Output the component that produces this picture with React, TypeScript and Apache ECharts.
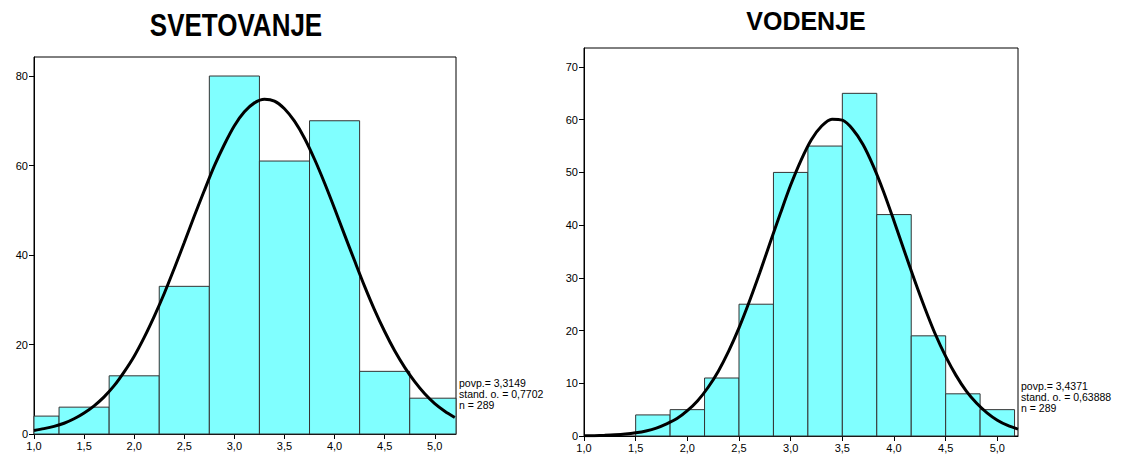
import React, { useEffect, useRef } from "react";
import * as echarts from "echarts";

// ---- Data: SVETOVANJE (left) ----
const leftBinEdges = [0.75, 1.25, 1.75, 2.25, 2.75, 3.25, 3.75, 4.25, 4.75, 5.25];
const leftCounts = [4, 6, 13, 33, 80, 61, 70, 14, 8];
const leftCurveX = [1.0, 1.1, 1.2, 1.3, 1.4, 1.5, 1.6, 1.7, 1.8, 1.9, 2.0, 2.1, 2.2, 2.3, 2.4, 2.5, 2.6, 2.7, 2.8, 2.9, 3.0, 3.1, 3.2, 3.3, 3.4, 3.5, 3.6, 3.7, 3.8, 3.9, 4.0, 4.1, 4.2, 4.3, 4.4, 4.5, 4.6, 4.7, 4.8, 4.9, 5.0, 5.1, 5.2];
const leftCurveY = [0.8, 1.2, 1.7, 2.4, 3.4, 4.7, 6.3, 8.3, 10.8, 13.9, 17.4, 21.6, 26.3, 31.4, 37.0, 42.8, 48.7, 54.4, 59.9, 64.7, 68.9, 72.0, 74.0, 74.8, 74.4, 72.7, 69.9, 66.1, 61.4, 56.1, 50.4, 44.5, 38.7, 33.0, 27.7, 22.9, 18.6, 14.9, 11.7, 9.0, 6.8, 5.1, 3.7];
const leftYTicks = [0, 20, 40, 60, 80];
const leftStats = ["povp.= 3,3149", "stand. o. = 0,7702", "n = 289"];

// ---- Data: VODENJE (right) ----
const rightBinEdges = [1.5, 1.8333, 2.1667, 2.5, 2.8333, 3.1667, 3.5, 3.8333, 4.1667, 4.5, 4.8333, 5.1667];
const rightCounts = [4, 5, 11, 25, 50, 55, 65, 42, 19, 8, 5];
const rightCurveX = [1.0, 1.1, 1.2, 1.3, 1.4, 1.5, 1.6, 1.7, 1.8, 1.9, 2.0, 2.1, 2.2, 2.3, 2.4, 2.5, 2.6, 2.7, 2.8, 2.9, 3.0, 3.1, 3.2, 3.3, 3.4, 3.5, 3.6, 3.7, 3.8, 3.9, 4.0, 4.1, 4.2, 4.3, 4.4, 4.5, 4.6, 4.7, 4.8, 4.9, 5.0, 5.1, 5.2];
const rightCurveY = [0.04, 0.07, 0.13, 0.22, 0.37, 0.61, 0.96, 1.5, 2.3, 3.3, 4.8, 6.7, 9.2, 12.3, 16.1, 20.5, 25.5, 30.9, 36.6, 42.2, 47.6, 52.3, 56.2, 58.8, 60.1, 59.9, 58.2, 55.3, 51.2, 46.3, 40.8, 35.1, 29.5, 24.2, 19.3, 15.1, 11.5, 8.5, 6.2, 4.4, 3.0, 2.0, 1.3];
const rightYTicks = [0, 10, 20, 30, 40, 50, 60, 70];
const rightStats = ["povp.= 3,4371", "stand. o. = 0,63888", "n = 289"];

const xTicks = [1.0, 1.5, 2.0, 2.5, 3.0, 3.5, 4.0, 4.5, 5.0];

const FONT = "'Liberation Sans', Arial, sans-serif";

function binData(edges: number[], counts: number[]) {
  return counts.map((c, i) => [edges[i], edges[i + 1], c]);
}

function renderBin(params: any, api: any) {
  const x0 = api.value(0);
  const x1 = api.value(1);
  const c = api.value(2);
  const p0 = api.coord([x0, c]);
  const p1 = api.coord([x1, 0]);
  const cs = params.coordSys;
  const rect = echarts.graphic.clipRectByRect(
    { x: p0[0], y: p0[1], width: p1[0] - p0[0], height: p1[1] - p0[1] },
    { x: cs.x, y: cs.y, width: cs.width, height: cs.height }
  );
  if (!rect) return null;
  return {
    type: "rect",
    shape: rect,
    style: { fill: "#80FFFF", stroke: "#333333", lineWidth: 1 },
  };
}

function xAxisCfg(gridIndex: number, max: number) {
  return {
    type: "value",
    gridIndex,
    min: 1,
    max,
    axisLine: { show: true, lineStyle: { color: "#000", width: 1 } },
    axisTick: { show: true, length: 5, lineStyle: { color: "#000" }, customValues: xTicks },
    axisLabel: {
      color: "#000",
      fontFamily: FONT,
      fontSize: 11,
      margin: 6,
      customValues: xTicks,
      formatter: (v: number) => v.toFixed(1).replace(".", ","),
    },
    splitLine: { show: false },
  };
}

function yAxisCfg(gridIndex: number, max: number, ticks: number[]) {
  return {
    type: "value",
    gridIndex,
    min: 0,
    max,
    axisLine: { show: true, lineStyle: { color: "#000", width: 1 } },
    axisTick: { show: true, length: 5, lineStyle: { color: "#000" }, customValues: ticks },
    axisLabel: {
      color: "#000",
      fontFamily: FONT,
      fontSize: 11,
      margin: 6,
      customValues: ticks,
    },
    splitLine: { show: false },
  };
}

function statsText(x: number, y0: number, lines: string[], step: number) {
  return lines.map((t, i) => ({
    type: "text",
    x,
    y: y0 + i * step,
    style: {
      text: t,
      fill: "#000",
      font: `10.5px ${FONT}`,
      textAlign: "left",
      textVerticalAlign: "middle",
    },
  }));
}

export default function App() {
  const ref = useRef<HTMLDivElement>(null);
  useEffect(() => {
    if (!ref.current) return;
    const chart = echarts.init(ref.current, undefined, { renderer: "svg" });
    chart.setOption({
      animation: false,
      backgroundColor: "#fff",
      grid: [
        { left: 34, top: 57, width: 422, height: 377, show: true, borderColor: "#000", borderWidth: 1, backgroundColor: "transparent" },
        { left: 584, top: 48, width: 434, height: 388, show: true, borderColor: "#000", borderWidth: 1, backgroundColor: "transparent" },
      ],
      xAxis: [xAxisCfg(0, 5.212), xAxisCfg(1, 5.2)],
      yAxis: [yAxisCfg(0, 84.25, leftYTicks), yAxisCfg(1, 73.6, rightYTicks)],
      graphic: [
        {
          type: "text",
          x: 236,
          y: 25,
          scaleY: 1.22,
          style: {
            text: "SVETOVANJE",
            fill: "#000",
            font: `bold 26px ${FONT}`,
            textAlign: "center",
            textVerticalAlign: "middle",
          },
        },
        {
          type: "text",
          x: 806,
          y: 21,
          style: {
            text: "VODENJE",
            fill: "#000",
            font: `bold 25px ${FONT}`,
            textAlign: "center",
            textVerticalAlign: "middle",
          },
        },
        ...statsText(459, 383, leftStats, 11),
        ...statsText(1021, 386, rightStats, 11),
      ],
      series: [
        {
          type: "custom",
          xAxisIndex: 0,
          yAxisIndex: 0,
          renderItem: renderBin,
          encode: { x: [0, 1], y: 2 },
          data: binData(leftBinEdges, leftCounts),
        },
        {
          type: "line",
          xAxisIndex: 0,
          yAxisIndex: 0,
          smooth: 0.3,
          symbol: "none",
          z: 5,
          lineStyle: { color: "#000", width: 3 },
          data: leftCurveX.map((x, i) => [x, leftCurveY[i]]),
        },
        {
          type: "custom",
          xAxisIndex: 1,
          yAxisIndex: 1,
          renderItem: renderBin,
          encode: { x: [0, 1], y: 2 },
          data: binData(rightBinEdges, rightCounts),
        },
        {
          type: "line",
          xAxisIndex: 1,
          yAxisIndex: 1,
          smooth: 0.3,
          symbol: "none",
          z: 5,
          lineStyle: { color: "#000", width: 3 },
          data: rightCurveX.map((x, i) => [x, rightCurveY[i]]),
        },
      ],
    });
    return () => chart.dispose();
  }, []);
  return (
    <div
      ref={ref}
      style={{ position: "fixed", left: 0, top: 0, width: 1126, height: 459, background: "#fff" }}
    />
  );
}
